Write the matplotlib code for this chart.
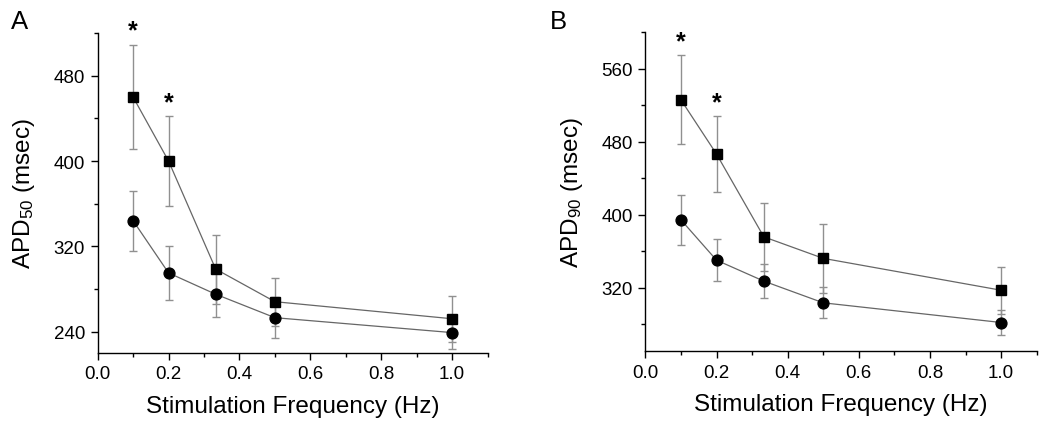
import matplotlib
matplotlib.use("Agg")
import matplotlib.pyplot as plt
from matplotlib.ticker import MultipleLocator

plt.rcParams['font.family'] = ['Liberation Sans', 'DejaVu Sans']

freq = [0.1, 0.2, 0.333, 0.5, 1.0]

# panel A: APD50
apd50_sq = [460, 400, 298.6, 268, 252]
apd50_sq_err = [49, 42, 32.4, 22.6, 21.4]
apd50_ci = [344, 295, 275, 253, 239]
apd50_ci_err = [28, 25, 21, 19, 15.4]

# panel B: APD90
apd90_sq = [526, 466.5, 375.6, 352, 317]
apd90_sq_err = [48.8, 41.6, 37.3, 37.8, 26]
apd90_ci = [394.3, 350, 327, 303.2, 281.6]
apd90_ci_err = [27.4, 23, 18.6, 17.2, 14]

# asterisks above the first two square points
signif_idx = [0, 1]

panels = [
    ("A", r"$\mathregular{APD_{50}}$ (msec)", apd50_sq, apd50_sq_err, apd50_ci, apd50_ci_err,
     (220, 520), [240, 320, 400, 480]),
    ("B", r"$\mathregular{APD_{90}}$ (msec)", apd90_sq, apd90_sq_err, apd90_ci, apd90_ci_err,
     (250, 600), [320, 400, 480, 560]),
]

fig = plt.figure(figsize=(10.5, 4.31), dpi=100)
rects = [[0.093, 0.179, 0.3714, 0.7418], [0.6146, 0.1826, 0.3728, 0.740]]
letter_x = [0.010, 0.524]

for (letter, ylabel, sq, sq_err, ci, ci_err, ylim, yticks), rect, lx in zip(panels, rects, letter_x):
    ax = fig.add_axes(rect)
    for mean, err, marker, ms in [(sq, sq_err, "s", 7.3), (ci, ci_err, "o", 7.8)]:
        ax.errorbar(freq, mean, yerr=err, fmt="none", ecolor="#909090",
                    elinewidth=1.0, capsize=2.8, capthick=1.0, zorder=2)
        ax.plot(freq, mean, color="#666666", lw=0.9, marker=marker, ms=ms,
                mfc="black", mec="black", zorder=3)
    for i in signif_idx:
        ax.annotate("*", xy=(freq[i], sq[i] + sq_err[i]), xytext=(0, 1.5),
                    textcoords="offset points", ha="center", va="bottom",
                    fontsize=18, fontweight="bold")

    ax.set_xlim(0, 1.1)
    ax.set_ylim(*ylim)
    ax.set_yticks(yticks)
    ax.xaxis.set_major_locator(MultipleLocator(0.2))
    ax.xaxis.set_minor_locator(MultipleLocator(0.1))
    ax.yaxis.set_minor_locator(MultipleLocator(40))
    ax.spines[['top', 'right']].set_visible(False)
    for s in ['left', 'bottom']:
        ax.spines[s].set_linewidth(1.0)
    ax.tick_params(which="major", length=5, width=1.0, labelsize=13.5, pad=4)
    ax.tick_params(which="minor", length=3, width=1.0)
    ax.set_xlabel("Stimulation Frequency (Hz)", fontsize=17.5, labelpad=9)
    ax.set_ylabel(ylabel, fontsize=17.5, labelpad=12)
    fig.text(lx, 0.932, letter, fontsize=18.5, ha="left", va="baseline")

fig.savefig("out.png", dpi=100)
